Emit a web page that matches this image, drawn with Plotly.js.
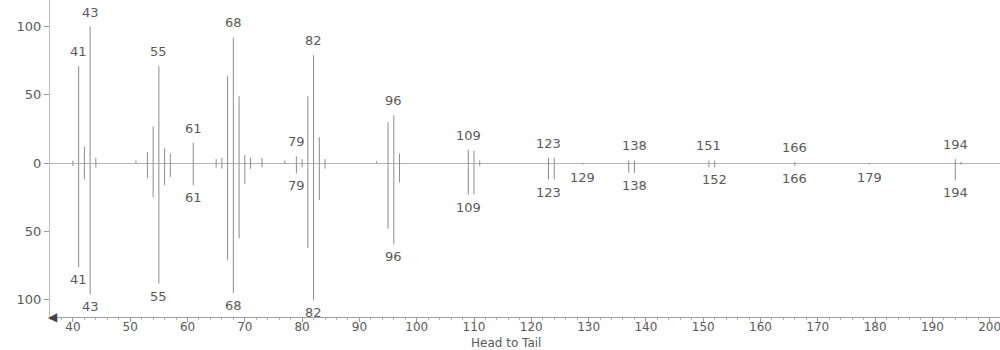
<!DOCTYPE html>
<html>
<head>
<meta charset="utf-8">
<script src="https://cdn.plot.ly/plotly-3.0.1.min.js"></script>
<style>
  html, body { margin: 0; padding: 0; background: #fff; }
  #chart { width: 1000px; height: 350px; }
</style>
</head>
<body>
<div id="chart"></div>
<script>
// Head spectrum (upper half): m/z and relative intensity
const headMz = [40, 41, 42, 43, 44, 51, 53, 54, 55, 56, 57, 61, 65, 66, 67, 68, 69, 70, 71, 73, 77, 79, 80, 81, 82, 83, 84, 93, 95, 96, 97, 109, 110, 111, 123, 124, 137, 138, 151, 152, 166, 194, 195];
const headInt = [2, 71, 12, 100, 4, 2, 8, 27, 71, 11, 7, 15, 3, 4, 64, 92, 49, 6, 4, 4, 2, 5, 3, 49, 79, 19, 3, 1.5, 30, 35, 7, 10, 9, 2, 4, 4, 2, 2, 2, 2, 1, 3, 1];

// Tail spectrum (lower half, drawn downward): m/z and relative intensity
const tailMz = [40, 41, 42, 43, 44, 53, 54, 55, 56, 57, 61, 65, 66, 67, 68, 69, 70, 71, 73, 79, 80, 81, 82, 83, 84, 95, 96, 97, 109, 110, 111, 123, 124, 129, 137, 138, 151, 152, 166, 179, 194, 195];
const tailInt = [2, 76, 12, 96, 3, 11, 25, 88, 16, 10, 16, 3, 4, 71, 95, 55, 15, 4, 3, 7.5, 3, 62, 100, 27, 4, 48, 59, 14, 23, 23, 2, 12, 12, 1, 7, 7, 3, 3, 2, 1, 12.5, 1];

// Peaks carrying an m/z label
const headLabels = [41, 43, 55, 61, 68, 79, 82, 96, 109, 123, 138, 151, 166, 194];
const tailLabels = [41, 43, 55, 61, 68, 79, 82, 96, 109, 123, 129, 138, 152, 166, 179, 194];

// Intensity axis ticks (both halves read as positive)
const yTickVals = [-100, -50, 0, 50, 100];
const yTickText = ['100', '50', '0', '50', '100'];

const FONT = 'DejaVu Sans, Verdana, sans-serif';
const TEXT = '#5a5a5a';

// Turn m/z + intensity lists into stick segments
function sticks(mz, inten, sign) {
  const xs = [], ys = [];
  mz.forEach((m, i) => {
    xs.push(m, m, null);
    ys.push(0, sign * inten[i], null);
  });
  return { xs, ys };
}

const head = sticks(headMz, headInt, 1);
const tail = sticks(tailMz, tailInt, -1);

const traces = [
  { type: 'scatter', mode: 'lines', x: head.xs, y: head.ys,
    line: { color: '#8c8c8c', width: 1 }, hoverinfo: 'skip', showlegend: false },
  { type: 'scatter', mode: 'lines', x: tail.xs, y: tail.ys,
    line: { color: '#8c8c8c', width: 1 }, hoverinfo: 'skip', showlegend: false }
];

const annotations = [];
headLabels.forEach(m => {
  const v = headInt[headMz.indexOf(m)];
  annotations.push({ x: m, y: v, xref: 'x', yref: 'y', text: String(m),
    showarrow: false, yanchor: 'bottom', yshift: 5,
    font: { family: FONT, size: 13, color: TEXT } });
});
tailLabels.forEach(m => {
  const v = tailInt[tailMz.indexOf(m)];
  annotations.push({ x: m, y: -v, xref: 'x', yref: 'y', text: String(m),
    showarrow: false, yanchor: 'top', yshift: -3,
    font: { family: FONT, size: 13, color: TEXT } });
});
// Axis caption and the arrow at the left end of the m/z axis
annotations.push({ x: 0.48, y: 0, xref: 'paper', yref: 'paper', text: 'Head to Tail',
  showarrow: false, xanchor: 'center', yanchor: 'top', yshift: -17,
  font: { family: FONT, size: 12, color: TEXT } });
annotations.push({ x: 0, y: 0, xref: 'paper', yref: 'paper', text: '◀',
  showarrow: false, xanchor: 'center', yanchor: 'middle', xshift: 3,
  font: { family: FONT, size: 12, color: '#444' } });

const layout = {
  width: 1000, height: 350,
  margin: { l: 50, r: 0, t: 0, b: 33 },
  paper_bgcolor: '#fff', plot_bgcolor: '#fff',
  font: { family: FONT, size: 13, color: TEXT },
  showlegend: false,
  xaxis: {
    range: [36, 201.8],
    tickmode: 'linear', tick0: 40, dtick: 10,
    ticks: 'outside', ticklen: 4, tickcolor: '#9a9a9a',
    minor: { dtick: 2, ticks: 'outside', ticklen: 2, tickcolor: '#b0b0b0' },
    showline: true, linecolor: '#a0a0a0', linewidth: 1,
    showgrid: false, zeroline: false,
    ticklabeloverflow: 'allow',
    ticklabelstandoff: -5,
    tickfont: { family: FONT, size: 12, color: TEXT }
  },
  yaxis: {
    range: [-112.5, 119.4],
    tickmode: 'array', tickvals: yTickVals, ticktext: yTickText,
    ticks: 'outside', ticklen: 5, tickcolor: '#9a9a9a',
    showline: true, linecolor: '#c0c0c0', linewidth: 1,
    showgrid: false,
    zeroline: true, zerolinecolor: '#b5b5b5', zerolinewidth: 1,
    tickfont: { family: FONT, size: 13, color: TEXT }
  },
  annotations: annotations
};

Plotly.newPlot('chart', traces, layout, { staticPlot: true, displayModeBar: false });
</script>
</body>
</html>
